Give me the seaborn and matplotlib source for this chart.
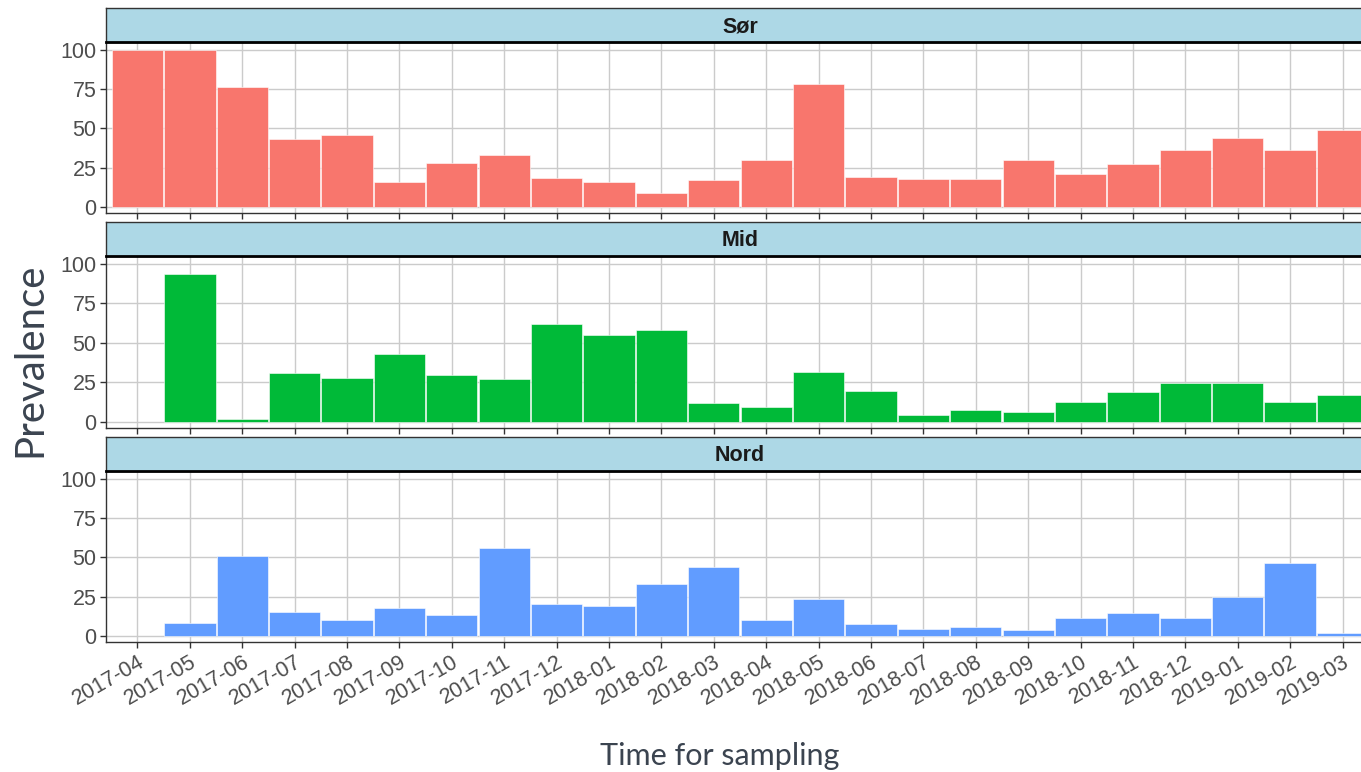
import numpy as np
import pandas as pd
import matplotlib
matplotlib.use("Agg")
import matplotlib.pyplot as plt
import seaborn as sns

# Månedlige prøvetakinger
months = ["2017-04", "2017-05", "2017-06", "2017-07", "2017-08", "2017-09",
          "2017-10", "2017-11", "2017-12", "2018-01", "2018-02", "2018-03",
          "2018-04", "2018-05", "2018-06", "2018-07", "2018-08", "2018-09",
          "2018-10", "2018-11", "2018-12", "2019-01", "2019-02", "2019-03"]

sor = [100, 100, 76, 43, 46, 16, 28, 33, 18, 15.5, 8.7, 17,
       29.5, 78, 19, 17.6, 17.6, 29.5, 21, 27.4, 36.3, 44, 36.3, 48.8]
mid = [np.nan, 93.6, 1.5, 30.6, 27.8, 42.9, 29.3, 27.2, 61.8, 55, 57.8, 11.9,
       9.1, 31.4, 19.5, 4.5, 7.6, 6.4, 12.5, 18.9, 24.6, 24.6, 12.5, 17]
nord = [np.nan, 8.3, 50.5, 15.3, 9.8, 17.4, 13.4, 55.6, 20.2, 18.9, 32.7, 43.7,
        10, 23.6, 7.6, 4.3, 5.5, 3.6, 11, 14.6, 11, 24.4, 46.5, 1.7]

regions = ["Sør", "Mid", "Nord"]
values = {"Sør": sor, "Mid": mid, "Nord": nord}
colors = {"Sør": "#F8766D", "Mid": "#00BA38", "Nord": "#619CFF"}

W, H = 1361, 772
fig = plt.figure(figsize=(W / 100, H / 100), dpi=100)
plt.rcParams['font.family'] = ['Liberation Sans', 'DejaVu Sans']

# panelgeometri i piksler: (topp, bunn) for hvert panel, høyde på stripen
left_px, right_px = 106, 1374
panels = [(42, 213), (256, 428), (471, 642)]
strip_h = 34

for i, reg in enumerate(regions):
    top, bot = panels[i]
    ax = fig.add_axes([left_px / W, 1 - bot / H, (right_px - left_px) / W, (bot - top) / H])
    df = pd.DataFrame({"month": months, "prev": values[reg]})
    sns.barplot(data=df, x="month", y="prev", order=months, color=colors[reg],
                width=0.98, edgecolor="white", linewidth=0.4, saturation=1, ax=ax, zorder=3)
    ax.set_xlim(-0.6, len(months) - 0.4)
    ax.set_ylim(-4, 105)
    ax.set_yticks([0, 25, 50, 75, 100])
    ax.grid(True, color="#CBCBCB", lw=1, zorder=0)
    ax.set_axisbelow(True)
    ax.set_xlabel("")
    ax.set_ylabel("")
    for s in ax.spines.values():
        s.set_color("#333333")
        s.set_linewidth(1)
    ax.tick_params(axis="both", length=4, width=1, color="#333333",
                   labelsize=15.5, labelcolor="#4D4D4D", pad=3)
    if i < 2:
        ax.set_xticklabels([])
    else:
        ax.set_xticks(range(len(months)))
        ax.set_xticklabels(months, rotation=30, ha="right", va="top",
                           rotation_mode="anchor")

    # fasettstripe
    sax = fig.add_axes([left_px / W, 1 - top / H, (right_px - left_px) / W, strip_h / H])
    sax.set_facecolor("#ADD8E6")
    sax.set_xticks([])
    sax.set_yticks([])
    for s in sax.spines.values():
        s.set_color("#333333")
        s.set_linewidth(1)
    sax.spines["bottom"].set_color("black")
    sax.spines["bottom"].set_linewidth(2)
    sax.text(0.5, 0.45, reg, transform=sax.transAxes, ha="center", va="center",
             fontsize=15.5, fontweight="bold", color="#1A1A1A")

fig.text(30 / W, 1 - 360 / H, "Prevalence", rotation=90, ha="center", va="center",
         fontsize=29, color="#3B4450", family=["Lato", "DejaVu Sans"])
fig.text(720 / W, 1 - 756 / H, "Time for sampling", ha="center", va="center",
         fontsize=22, color="#3B4450", family=["Lato", "DejaVu Sans"])

fig.savefig("out.png", dpi=100)
